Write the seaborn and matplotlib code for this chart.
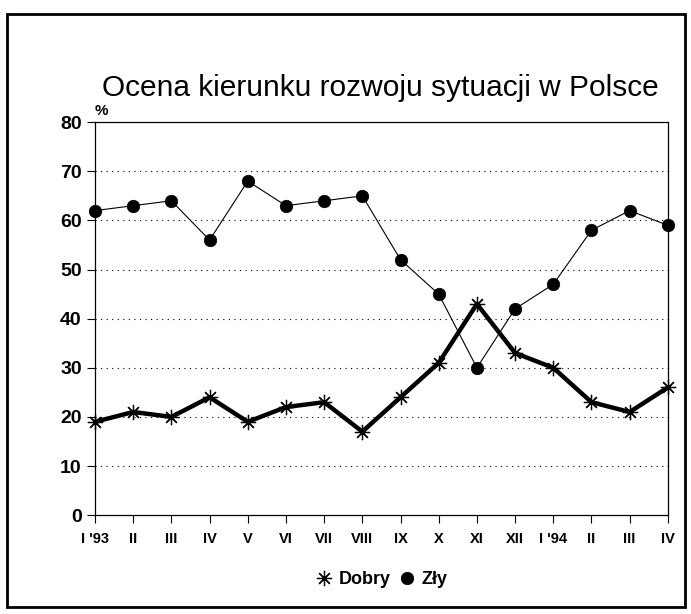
import pandas as pd
import matplotlib.pyplot as plt
import seaborn as sns
from matplotlib.patches import Rectangle

miesiace = ["I '93", "II", "III", "IV", "V", "VI", "VII", "VIII", "IX", "X",
            "XI", "XII", "I '94", "II", "III", "IV"]
dobry = [19, 21, 20, 24, 19, 22, 23, 17, 24, 31, 43, 33, 30, 23, 21, 26]
zly = [62, 63, 64, 56, 68, 63, 64, 65, 52, 45, 30, 42, 47, 58, 62, 59]

sns.set_style("white")
plt.rcParams['font.family'] = ['Liberation Sans', 'DejaVu Sans']
plt.rcParams['text.color'] = 'black'
plt.rcParams['xtick.color'] = 'black'
plt.rcParams['ytick.color'] = 'black'

df = pd.DataFrame({'nr': range(len(miesiace)), 'Dobry': dobry, 'Zły': zly})

fig = plt.figure(figsize=(6.91, 6.14), dpi=100)
ax = fig.add_axes([0.1375, 0.161, 0.829, 0.640])

sns.lineplot(data=df, x='nr', y='Dobry', ax=ax, color='black', linewidth=3.2,
             marker=(8, 2, 0), markersize=11, markeredgewidth=0.9,
             markeredgecolor='black', label='Dobry', clip_on=False)
sns.lineplot(data=df, x='nr', y='Zły', ax=ax, color='black', linewidth=0.8,
             marker='o', markersize=9, markeredgewidth=0.5,
             markeredgecolor='black', label='Zły', clip_on=False)

ax.set_xlim(0, len(miesiace) - 1)
ax.set_ylim(0, 80)
ax.set_yticks(range(0, 81, 10))
ax.set_xticks(range(len(miesiace)))
ax.set_xticklabels(miesiace, fontsize=10.5, fontweight='bold')
ax.set_yticklabels([str(v) for v in range(0, 81, 10)], fontsize=14, fontweight='bold')
ax.tick_params(axis='both', direction='out', length=6, width=0.8, color='black',
               left=True, bottom=True)
ax.tick_params(axis='x', pad=6)
for y in range(10, 80, 10):
    ax.axhline(y, color='black', linestyle=(0, (1, 4)), linewidth=0.8, zorder=0)
for s in ax.spines.values():
    s.set_color('black')
    s.set_linewidth(0.9)

ax.set_xlabel('')
ax.set_ylabel('')
ax.text(0.0, 80.8, '%', fontsize=11, fontweight='bold', ha='left', va='bottom')

fig.text(0.55, 0.857, 'Ocena kierunku rozwoju sytuacji w Polsce', fontsize=21.5,
         ha='center', va='center', color='black')

ax.legend(loc='center', bbox_to_anchor=(0.5, -0.165), ncol=2, frameon=False,
          fontsize=13, handlelength=1.0, handletextpad=0.3, columnspacing=0.4)
for t in ax.get_legend().get_texts():
    t.set_fontweight('bold')
for h in ax.get_legend().legend_handles:
    h.set_linestyle('None')

fig.patches.append(Rectangle((0.010, 0.011), 0.981, 0.966, transform=fig.transFigure,
                             fill=False, edgecolor='black', linewidth=2))

plt.savefig('out.png', dpi=100)
